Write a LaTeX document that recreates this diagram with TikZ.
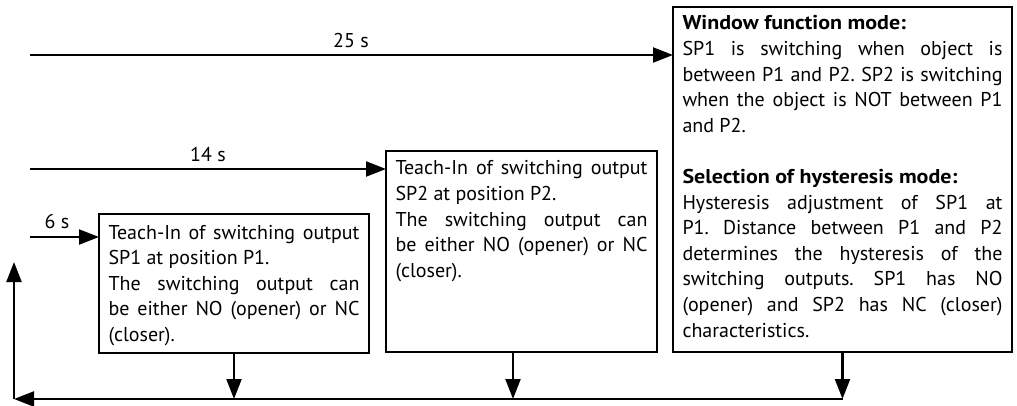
\documentclass[tikz,border=0pt]{standalone}
\usepackage{fontspec}
\setmainfont{PT Sans}[BoldFeatures={FakeStretch=1.1}]
\usetikzlibrary{arrows.meta}

% justified text block of fixed size; #3 = distance from top to first baseline
\newcommand{\boxtext}[4]{%
  \parbox[c][#2][t]{#1}{\fontsize{20}{25.6}\selectfont\frenchspacing
    \setlength{\parindent}{0pt}\hyphenpenalty=10000 \hbadness=10000
    \rule{0pt}{#3}#4}}

\tikzset{
  box/.style={draw, line width=2.4pt, inner xsep=9.5pt, inner ysep=0pt,
              outer sep=0pt, anchor=north west},
  arr/.style={line width=2.2pt, -{Triangle[length=20pt,width=15pt]}},
  lbl/.style={font=\fontsize{20}{24}\selectfont, anchor=base, inner sep=0pt}
}

\begin{document}
\begin{tikzpicture}[x=1pt, y=-1pt]
  \useasboundingbox (0,0) rectangle (1017,406);

  % three mode boxes
  \node[box] (b1) at (99,214) {\boxtext{251pt}{139pt}{25pt}{%
    Teach-In of switching output\linebreak SP1 at position P1.\par
    The switching output can\linebreak be either NO (opener) or NC\linebreak (closer).}};
  \node[box] (b2) at (386,151) {\boxtext{252pt}{201pt}{24pt}{%
    Teach-In of switching output\linebreak SP2 at position P2.\par
    The switching output can\linebreak be either NO (opener) or NC\linebreak (closer).}};
  \node[box] (b3) at (673,7) {\boxtext{320pt}{345pt}{23pt}{%
    \textbf{Window function mode:}\par
    SP1 is switching when object is\linebreak between P1 and P2. SP2 is switching\linebreak
    when the object is NOT between P1\linebreak and P2.\par
    \vspace{25.6pt}
    \textbf{Selection of hysteresis mode:}\par
    Hysteresis adjustment of SP1 at\linebreak P1. Distance between P1 and P2\linebreak
    determines the hysteresis of the\linebreak switching outputs. SP1 has NO\linebreak
    (opener) and SP2 has NC (closer)\linebreak characteristics.}};

  % hold-time arrows
  \coordinate (s25) at (30,55);
  \coordinate (s14) at (30,169);
  \coordinate (s6)  at (30,237);
  \draw[arr] (s25) -- (s25 -| b3.west);
  \draw[arr] (s14) -- (s14 -| b2.west);
  \draw[arr] (s6)  -- (s6 -| b1.west);
  \node[lbl] (t25) at (351,48)  {25 s};
  \node[lbl] (t14) at (208,162) {14 s};
  \node[lbl] (t6)  at (57,229)  {6 s};

  % return loop
  \coordinate (bl) at (14,399);
  \coordinate (top) at (14,262);
  \draw[arr] (b1.south) -- (b1.south |- bl);
  \draw[arr] ([xshift=-8.5pt]b2.south) -- ([xshift=-8.5pt]b2.south |- bl);
  \draw[arr] (b3.south) -- (b3.south |- bl);
  \draw[arr] (b3.south |- bl) -- (bl);
  \draw[arr] (bl) -- (top);
\end{tikzpicture}
\end{document}
